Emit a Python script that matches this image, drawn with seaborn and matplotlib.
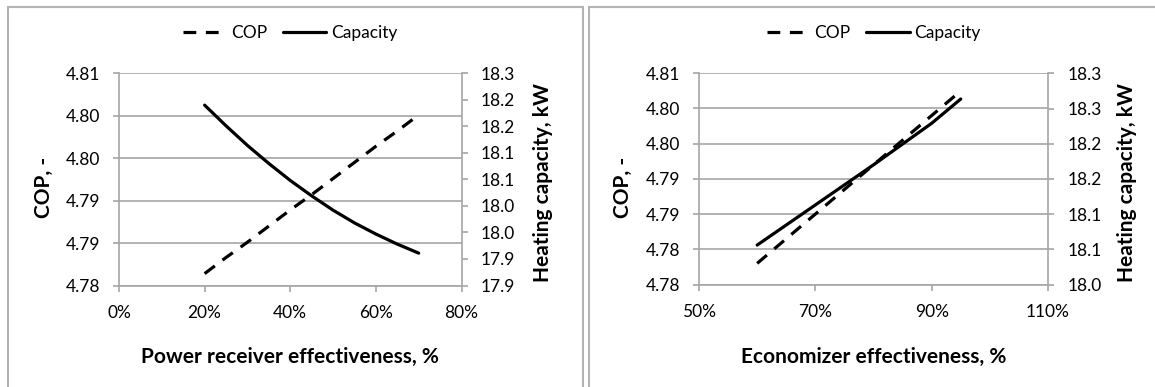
import numpy as np
import pandas as pd
import seaborn as sns
import matplotlib
matplotlib.use("Agg")
import matplotlib.pyplot as plt
from matplotlib.ticker import FuncFormatter, MultipleLocator, FixedLocator, PercentFormatter
from matplotlib.patches import Rectangle
from decimal import Decimal, ROUND_HALF_UP

# Power receiver effectiveness sweep
pr_eff = [20, 25, 30, 35, 40, 45, 50, 55, 60, 65, 70]
pr_cop = [4.7814, 4.7833, 4.7851, 4.7870, 4.7889, 4.7907,
          4.7926, 4.7945, 4.7964, 4.7982, 4.8001]
pr_cap = [18.190, 18.151, 18.114, 18.080, 18.048, 18.019,
          17.992, 17.968, 17.947, 17.928, 17.911]

# Economizer effectiveness sweep
ec_eff = [60, 70, 80, 90, 95]
ec_cop = [4.7780, 4.7850, 4.7920, 4.7990, 4.8025]
ec_cap = [18.056, 18.113, 18.170, 18.229, 18.2635]

legend_labels = ["COP", "Capacity"]
cop_label = "COP, -"
cap_label = "Heating capacity, kW"
x_labels = ["Power receiver effectiveness, %", "Economizer effectiveness, %"]

sns.set_theme(style="white")
plt.rcParams["font.family"] = ["Lato", "DejaVu Sans"]

W, H = 1155, 387
fig = plt.figure(figsize=(W / 100, H / 100), dpi=100)
fig.patch.set_facecolor("white")

GRID = "#a6a6a6"
TXT = "#000000"
TICK_FS = 12.5
LABEL_FS = 15


def fmt(dec):
    q = Decimal(1).scaleb(-dec)

    def f(v, pos):
        d = Decimal(f"{float(v):.6f}").quantize(q, rounding=ROUND_HALF_UP)
        return f"{d}"
    return FuncFormatter(f)


def px_axes(l, r, t, b):
    return fig.add_axes([l / W, (H - b) / H, (r - l) / W, (b - t) / H])


# panel frames
for (x0, x1) in [(8, 583), (589, 1160)]:
    fig.patches.append(Rectangle((x0 / W, -0.05), (x1 - x0) / W, (H - 7) / H + 0.05,
                                 transform=fig.transFigure, fill=False,
                                 edgecolor="#b3b3b3", linewidth=1.5))


def panel(geom, x, cop, cap, xticks, ylim1, ylim2, xlabel, lab_x):
    l, r, t, b = geom
    ax = px_axes(*geom)
    ax2 = ax.twinx()
    df = pd.DataFrame({"x": x, "cop": cop, "cap": cap})
    sns.lineplot(data=df, x="x", y="cop", ax=ax, color="black", linewidth=2.3,
                 linestyle=(0, (4, 3)), label=legend_labels[0], legend=False)
    sns.lineplot(data=df, x="x", y="cap", ax=ax2, color="black", linewidth=2.3,
                 label=legend_labels[1], legend=False)

    ax.set_xlim(xticks[0], xticks[-1])
    ax.xaxis.set_major_locator(FixedLocator(xticks))
    ax.xaxis.set_major_formatter(PercentFormatter(decimals=0))
    ax.set_ylim(*ylim1)
    ax.yaxis.set_major_locator(MultipleLocator(0.005))
    ax.yaxis.set_major_formatter(fmt(2))
    ax2.set_ylim(*ylim2)
    ax2.yaxis.set_major_locator(MultipleLocator(0.05))
    ax2.yaxis.set_major_formatter(fmt(1))

    ax.grid(axis="y", color=GRID, linewidth=1.2)
    ax.grid(axis="x", visible=False)
    ax2.grid(False)
    ax.set_axisbelow(True)

    for a in (ax, ax2):
        for s in a.spines.values():
            s.set_visible(False)
    ax.spines["left"].set_visible(True)
    ax.spines["bottom"].set_visible(True)
    ax2.spines["right"].set_visible(True)
    for s in (ax.spines["left"], ax.spines["bottom"], ax2.spines["right"]):
        s.set_color(GRID)
        s.set_linewidth(1.2)

    ax.tick_params(axis="y", which="major", direction="out", length=4.3, width=1.2,
                   color=GRID, labelsize=TICK_FS, labelcolor=TXT, pad=9.5, left=True)
    ax.tick_params(axis="x", which="major", direction="out", length=4.3, width=1.2,
                   color=GRID, labelsize=TICK_FS, labelcolor=TXT, pad=9.5, bottom=True)
    ax2.tick_params(axis="y", which="major", direction="out", length=4.3, width=1.2,
                    color=GRID, labelsize=TICK_FS, labelcolor=TXT, pad=9.5, right=True)

    ax.set_xlabel(xlabel, fontsize=LABEL_FS, fontweight="bold", color=TXT)
    ax.set_ylabel(cop_label, fontsize=LABEL_FS, fontweight="bold", color=TXT)
    ax2.set_ylabel(cap_label, fontsize=LABEL_FS, fontweight="bold", color=TXT)
    hgt = b - t
    wid = r - l
    ax.xaxis.set_label_coords(0.5, (b - 357) / hgt)
    ax.xaxis.label.set_va("center")
    ax.yaxis.set_label_coords((lab_x[0] - l) / wid, (b - 187) / hgt)
    ax.yaxis.label.set_va("center")
    ax2.yaxis.set_label_coords((lab_x[1] - l) / wid, (b - 183) / hgt)
    ax2.yaxis.label.set_va("center")

    h1, l1 = ax.get_legend_handles_labels()
    h2, l2 = ax2.get_legend_handles_labels()
    leg = ax.legend(h1 + h2, l1 + l2, loc="center",
                    bbox_to_anchor=(0.5, 1 + (t - 33) / hgt),
                    ncol=2, frameon=False, fontsize=TICK_FS, handlelength=2.5,
                    handletextpad=0.25, columnspacing=0.9)
    for tx in leg.get_texts():
        tx.set_color(TXT)
    return ax, ax2


panel((119, 461.5, 73.3, 285.5), pr_eff, pr_cop, pr_cap, [0, 20, 40, 60, 80],
      (4.780, 4.805), (17.85, 18.25), x_labels[0], (44, 543))
panel((699, 1048, 73.3, 284.5), ec_eff, ec_cop, ec_cap, [50, 70, 90, 110],
      (4.775, 4.805), (18.0, 18.3), x_labels[1], (623, 1127))

fig.savefig("out.png", dpi=100, facecolor="white")
